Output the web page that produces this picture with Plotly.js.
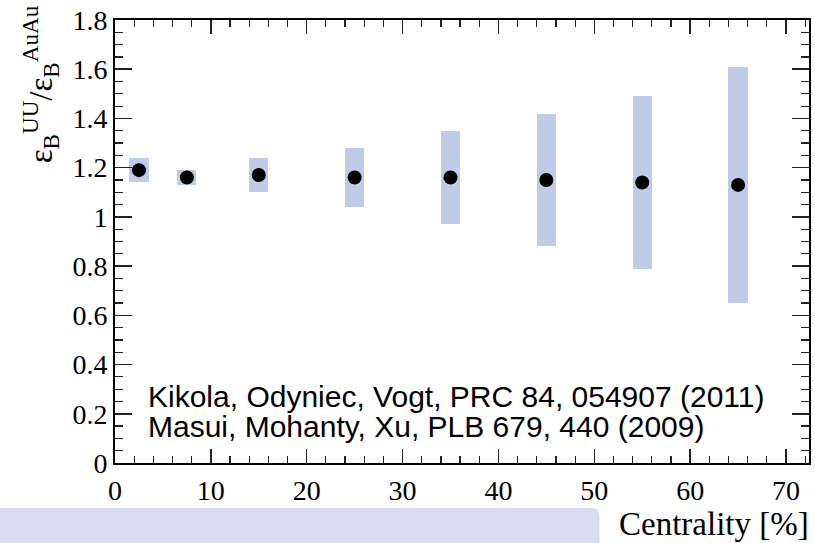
<!DOCTYPE html>
<html>
<head>
<meta charset="utf-8">
<script src="https://cdn.plot.ly/plotly-3.0.1.min.js"></script>
<style>html,body{margin:0;padding:0;background:#fff;}#chart{width:815px;height:543px;}</style>
</head>
<body>
<div id="chart"></div>
<script>
// Centrality bin centres [%]
const centrality = [2.5, 7.5, 15, 25, 35, 45, 55, 65];
// Ratio eps_B(UU)/eps_B(AuAu) central values
const ratio = [1.19, 1.16, 1.17, 1.16, 1.16, 1.15, 1.14, 1.13];
// Uncertainty band limits
const bandLow = [1.14, 1.13, 1.10, 1.04, 0.97, 0.88, 0.79, 0.65];
const bandHigh = [1.24, 1.19, 1.24, 1.28, 1.35, 1.42, 1.49, 1.61];
// Tick values
const xTicks = [0, 10, 20, 30, 40, 50, 60, 70];
const yTicks = [0, 0.2, 0.4, 0.6, 0.8, 1, 1.2, 1.4, 1.6, 1.8];
const refLines = ["Kikola, Odyniec, Vogt, PRC 84, 054907 (2011)", "Masui, Mohanty, Xu, PLB 679, 440 (2009)"];

const bandHeight = bandHigh.map((h, i) => h - bandLow[i]);

const traces = [
  {
    type: 'bar', x: centrality, y: bandHeight, base: bandLow, width: 2,
    marker: {color: '#c0cbe8', line: {width: 0}},
    hoverinfo: 'skip', showlegend: false
  },
  {
    type: 'scatter', mode: 'markers', x: centrality, y: ratio,
    marker: {color: '#000', size: 14, line: {width: 0}},
    showlegend: false
  }
];

const serif = '"Liberation Serif", "Times New Roman", serif';
const sans = '"Liberation Sans", Arial, sans-serif';
const axisCommon = {
  showgrid: false, zeroline: false, showline: true, linecolor: '#000', linewidth: 2,
  mirror: 'ticks', ticks: 'inside', tickcolor: '#222', tickwidth: 1.5,
  tickfont: {family: serif, size: 28, color: '#000'}
};

const layout = {
  width: 815, height: 543,
  margin: {l: 115, r: 6, t: 20, b: 80},
  paper_bgcolor: '#fff', plot_bgcolor: '#fff',
  bargap: 0,
  xaxis: Object.assign({}, axisCommon, {
    range: [0, 72.4], tickmode: 'array', tickvals: xTicks, ticklen: 14,
    minor: {dtick: 2, ticks: 'inside', ticklen: 7, tickcolor: '#222', tickwidth: 1.2},
    ticklabelstandoff: 1
  }),
  yaxis: Object.assign({}, axisCommon, {
    range: [0, 1.8], tickmode: 'array', tickvals: yTicks, ticklen: 17,
    minor: {dtick: 0.05, ticks: 'inside', ticklen: 8, tickcolor: '#222', tickwidth: 1.2}
  }),
  shapes: [{
    type: 'path', xref: 'paper', yref: 'paper', layer: 'below',
    path: 'M -0.2,-0.1016 L 0.6865,-0.1016 Q 0.698,-0.1016 0.698,-0.12 L 0.698,-0.3 L -0.2,-0.3 Z',
    fillcolor: '#dadaf1', line: {width: 0}
  }],
  annotations: [
    {xref: 'paper', yref: 'paper', x: 0.0446, y: 0.151, xanchor: 'left', yanchor: 'middle',
     text: refLines[0], showarrow: false, font: {family: sans, size: 30, color: '#000'}},
    {xref: 'paper', yref: 'paper', x: 0.0446, y: 0.0835, xanchor: 'left', yanchor: 'middle',
     text: refLines[1], showarrow: false, font: {family: sans, size: 30, color: '#000'}},
    {xref: 'paper', yref: 'paper', x: 1.003, y: -0.137, xanchor: 'right', yanchor: 'middle',
     text: 'Centrality [%]', showarrow: false, font: {family: serif, size: 33, color: '#000'}},
    {xref: 'paper', yref: 'paper', x: -0.108, y: 0.855, xanchor: 'center', yanchor: 'middle', textangle: -90,
     text: '\u03b5<sub>B</sub><sup>UU</sup>/\u03b5<sub>B</sub><sup>AuAu</sup>', showarrow: false,
     font: {family: serif, size: 33, color: '#000'}}
  ]
};

Plotly.newPlot('chart', traces, layout, {displayModeBar: false, staticPlot: true});
</script>
</body>
</html>
